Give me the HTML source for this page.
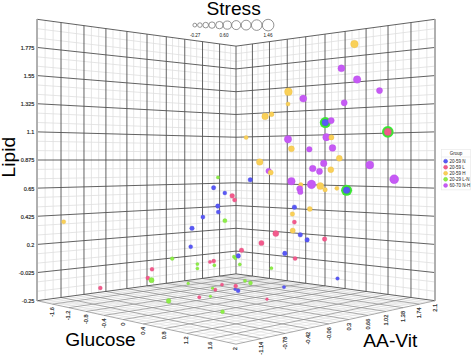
<!DOCTYPE html><html><head><meta charset="utf-8"><style>html,body{margin:0;padding:0;background:#fff;width:472px;height:355px;overflow:hidden}svg{display:block}text{font-family:"Liberation Sans",sans-serif}.t{stroke:#333;stroke-width:0.18}</style></head><body>
<svg width="472" height="355" viewBox="0 0 472 355">
<path d="M45.14 299.61L45.14 20.39M37.00 291.33L236.00 266.26M241.40 274.58L241.40 45.42M236.00 266.26L435.00 291.33M53.14 298.53L53.14 21.47M37.00 281.95L236.00 258.67M246.87 275.32L246.87 44.68M236.00 258.67L435.00 281.95M68.79 296.42L68.79 23.58M37.00 263.19L236.00 243.49M258.03 276.83L258.03 43.17M236.00 243.49L435.00 263.19M76.44 295.39L76.44 24.61M37.00 253.81L236.00 235.90M263.72 277.60L263.72 42.40M236.00 235.90L435.00 253.81M91.39 293.37L91.39 26.63M37.00 235.05L236.00 220.72M275.32 279.16L275.32 40.84M236.00 220.72L435.00 235.05M98.70 292.38L98.70 27.62M37.00 225.67L236.00 213.13M281.24 279.96L281.24 40.04M236.00 213.13L435.00 225.67M113.01 290.45L113.01 29.55M37.00 206.90L236.00 197.95M293.32 281.59L293.32 38.41M236.00 197.95L435.00 206.90M120.00 289.51L120.00 30.49M37.00 197.52L236.00 190.36M299.48 282.42L299.48 37.58M236.00 190.36L435.00 197.52M133.69 287.66L133.69 32.34M37.00 178.76L236.00 175.18M312.06 284.12L312.06 35.88M236.00 175.18L435.00 178.76M140.39 286.76L140.39 33.24M37.00 169.38L236.00 167.59M318.49 284.99L318.49 35.01M236.00 167.59L435.00 169.38M153.51 284.99L153.51 35.01M37.00 150.62L236.00 152.41M331.61 286.76L331.61 33.24M236.00 152.41L435.00 150.62M159.94 284.12L159.94 35.88M37.00 141.24L236.00 144.82M338.31 287.66L338.31 32.34M236.00 144.82L435.00 141.24M172.52 282.42L172.52 37.58M37.00 122.48L236.00 129.64M352.00 289.51L352.00 30.49M236.00 129.64L435.00 122.48M178.68 281.59L178.68 38.41M37.00 113.10L236.00 122.05M358.99 290.45L358.99 29.55M236.00 122.05L435.00 113.10M190.76 279.96L190.76 40.04M37.00 94.33L236.00 106.87M373.30 292.38L373.30 27.62M236.00 106.87L435.00 94.33M196.68 279.16L196.68 40.84M37.00 84.95L236.00 99.28M380.61 293.37L380.61 26.63M236.00 99.28L435.00 84.95M208.28 277.60L208.28 42.40M37.00 66.19L236.00 84.10M395.56 295.39L395.56 24.61M236.00 84.10L435.00 66.19M213.97 276.83L213.97 43.17M37.00 56.81L236.00 76.51M403.21 296.42L403.21 23.58M236.00 76.51L435.00 56.81M225.13 275.32L225.13 44.68M37.00 38.05L236.00 61.33M418.86 298.53L418.86 21.47M236.00 61.33L435.00 38.05M230.60 274.58L230.60 45.42M37.00 28.67L236.00 53.74M426.86 299.61L426.86 20.39M236.00 53.74L435.00 28.67" stroke="#dedede" stroke-width="0.8" fill="none"/>
<path d="M42.11 301.83L241.40 274.58M45.14 299.61L244.59 342.28M47.30 302.96L246.87 275.32M53.14 298.53L253.01 340.44M57.93 305.28L258.03 276.83M68.79 296.42L269.35 336.87M63.38 306.47L263.72 277.60M76.44 295.39L277.28 335.14M74.55 308.91L275.32 279.16M91.39 293.37L292.68 331.78M80.27 310.16L281.24 279.96M98.70 292.38L300.17 330.15M92.01 312.72L293.32 281.59M113.01 290.45L314.71 326.97M98.04 314.04L299.48 282.42M120.00 289.51L321.78 325.43M110.40 316.73L312.06 284.12M133.69 287.66L335.54 322.42M116.74 318.12L318.49 284.99M140.39 286.76L342.23 320.96M129.77 320.96L331.61 286.76M153.51 284.99L355.26 318.12M136.46 322.42L338.31 287.66M159.94 284.12L361.60 316.73M150.22 325.43L352.00 289.51M172.52 282.42L373.96 314.04M157.29 326.97L358.99 290.45M178.68 281.59L379.99 312.72M171.83 330.15L373.30 292.38M190.76 279.96L391.73 310.16M179.32 331.78L380.61 293.37M196.68 279.16L397.45 308.91M194.72 335.14L395.56 295.39M208.28 277.60L408.62 306.47M202.65 336.87L403.21 296.42M213.97 276.83L414.07 305.28M218.99 340.44L418.86 298.53M225.13 275.32L424.70 302.96M227.41 342.28L426.86 299.61M230.60 274.58L429.89 301.83" stroke="#dadada" stroke-width="0.6" fill="none"/>
<path d="M37.00 300.71L236.00 344.15M52.58 304.11L252.41 276.07M61.03 297.47L261.26 338.64M68.92 307.68L269.48 278.37M83.97 294.37L285.06 333.44M86.09 311.43L287.24 280.77M105.91 291.41L307.51 328.54M104.16 315.37L305.73 283.27M126.90 288.58L328.72 323.91M123.20 319.53L325.00 285.87M147.00 285.87L348.80 319.53M143.28 323.91L345.10 288.58M166.27 283.27L367.84 315.37M164.49 328.54L366.09 291.41M184.76 280.77L385.91 311.43M186.94 333.44L388.03 294.37M202.52 278.37L403.08 307.68M210.74 338.64L410.97 297.47M219.59 276.07L419.42 304.11M236.00 344.15L435.00 300.71" stroke="#858585" stroke-width="0.7" fill="none"/>
<path d="M37.00 300.71L37.00 19.29M37.00 300.71L236.00 273.86M236.00 273.86L435.00 300.71M61.03 297.47L61.03 22.53M37.00 272.57L236.00 251.08M252.41 276.07L252.41 43.93M236.00 251.08L435.00 272.57M83.97 294.37L83.97 25.63M37.00 244.43L236.00 228.31M269.48 278.37L269.48 41.63M236.00 228.31L435.00 244.43M105.91 291.41L105.91 28.59M37.00 216.28L236.00 205.54M287.24 280.77L287.24 39.23M236.00 205.54L435.00 216.28M126.90 288.58L126.90 31.42M37.00 188.14L236.00 182.77M305.73 283.27L305.73 36.73M236.00 182.77L435.00 188.14M147.00 285.87L147.00 34.13M37.00 160.00L236.00 160.00M325.00 285.87L325.00 34.13M236.00 160.00L435.00 160.00M166.27 283.27L166.27 36.73M37.00 131.86L236.00 137.23M345.10 288.58L345.10 31.42M236.00 137.23L435.00 131.86M184.76 280.77L184.76 39.23M37.00 103.72L236.00 114.46M366.09 291.41L366.09 28.59M236.00 114.46L435.00 103.72M202.52 278.37L202.52 41.63M37.00 75.57L236.00 91.69M388.03 294.37L388.03 25.63M236.00 91.69L435.00 75.57M219.59 276.07L219.59 43.93M37.00 47.43L236.00 68.92M410.97 297.47L410.97 22.53M236.00 68.92L435.00 47.43M236.00 273.86L236.00 46.14M37.00 19.29L236.00 46.14M435.00 300.71L435.00 19.29M236.00 46.14L435.00 19.29" stroke="#505050" stroke-width="0.9" fill="none"/>
<path d="M37.00 300.71L37.00 19.29M435.00 300.71L435.00 19.29" stroke="#b0b0b0" stroke-width="1.8" fill="none"/>
<circle cx="354.4" cy="44.1" r="3.80" fill="#f9d058" stroke="#e8b840" stroke-width="0.3"/>
<circle cx="341.4" cy="68.3" r="3.50" fill="#c65af5" stroke="#b048e0" stroke-width="0.3"/>
<circle cx="357.1" cy="79.5" r="3.80" fill="#c65af5" stroke="#b048e0" stroke-width="0.3"/>
<circle cx="379.5" cy="90.6" r="3.10" fill="#c65af5" stroke="#b048e0" stroke-width="0.3"/>
<circle cx="288.4" cy="91.7" r="3.90" fill="#f9d058" stroke="#e8b840" stroke-width="0.3"/>
<circle cx="303.2" cy="98.6" r="3.50" fill="#c65af5" stroke="#b048e0" stroke-width="0.3"/>
<circle cx="288.0" cy="104.0" r="2.10" fill="#f9d058" stroke="#e8b840" stroke-width="0.3"/>
<circle cx="265.1" cy="116.4" r="3.30" fill="#f9d058" stroke="#e8b840" stroke-width="0.3"/>
<circle cx="271.5" cy="114.2" r="2.50" fill="#f9d058" stroke="#e8b840" stroke-width="0.3"/>
<circle cx="246.1" cy="137.5" r="2.10" fill="#f9d058" stroke="#e8b840" stroke-width="0.3"/>
<circle cx="288.0" cy="139.2" r="3.70" fill="#c65af5" stroke="#b048e0" stroke-width="0.3"/>
<circle cx="344.2" cy="102.8" r="3.10" fill="#c65af5" stroke="#b048e0" stroke-width="0.3"/>
<circle cx="325.3" cy="122.6" r="5.50" fill="#3ce634"/>
<circle cx="325.3" cy="122.6" r="3.30" fill="#5858f6" stroke="#4848d0" stroke-width="0.3"/>
<circle cx="331.2" cy="120.6" r="3.10" fill="#c65af5" stroke="#b048e0" stroke-width="0.3"/>
<circle cx="326.4" cy="137.2" r="3.70" fill="#c65af5" stroke="#b048e0" stroke-width="0.3"/>
<circle cx="331.4" cy="137.4" r="2.60" fill="#f9d058" stroke="#e8b840" stroke-width="0.3"/>
<circle cx="387.8" cy="131.9" r="5.80" fill="#3ce634"/>
<circle cx="387.8" cy="131.9" r="3.60" fill="#f25a8c" stroke="#d84878" stroke-width="0.3"/>
<circle cx="291.4" cy="148.8" r="3.00" fill="#f9d058" stroke="#e8b840" stroke-width="0.3"/>
<circle cx="309.3" cy="149.3" r="2.80" fill="#c65af5" stroke="#b048e0" stroke-width="0.3"/>
<circle cx="332.5" cy="147.9" r="3.40" fill="#c65af5" stroke="#b048e0" stroke-width="0.3"/>
<circle cx="339.3" cy="158.3" r="3.00" fill="#f9d058" stroke="#e8b840" stroke-width="0.3"/>
<circle cx="323.7" cy="163.4" r="3.30" fill="#c65af5" stroke="#b048e0" stroke-width="0.3"/>
<circle cx="312.7" cy="168.5" r="3.30" fill="#c65af5" stroke="#b048e0" stroke-width="0.3"/>
<circle cx="319.5" cy="171.4" r="3.10" fill="#c65af5" stroke="#b048e0" stroke-width="0.3"/>
<circle cx="330.8" cy="169.7" r="3.00" fill="#f9d058" stroke="#e8b840" stroke-width="0.3"/>
<circle cx="369.8" cy="164.9" r="4.00" fill="#c65af5" stroke="#b048e0" stroke-width="0.3"/>
<circle cx="311.5" cy="184.4" r="4.30" fill="#c65af5" stroke="#b048e0" stroke-width="0.3"/>
<circle cx="320.3" cy="186.1" r="3.50" fill="#f9d058" stroke="#e8b840" stroke-width="0.3"/>
<circle cx="325.1" cy="189.7" r="2.30" fill="#f9d058" stroke="#e8b840" stroke-width="0.3"/>
<circle cx="336.9" cy="188.3" r="2.10" fill="#f9d058" stroke="#e8b840" stroke-width="0.3"/>
<circle cx="346.6" cy="190.3" r="5.50" fill="#3ce634"/>
<circle cx="346.6" cy="190.3" r="3.30" fill="#5858f6" stroke="#4848d0" stroke-width="0.3"/>
<circle cx="259.7" cy="162.0" r="3.30" fill="#f9d058" stroke="#e8b840" stroke-width="0.3"/>
<circle cx="268.6" cy="171.0" r="2.80" fill="#c65af5" stroke="#b048e0" stroke-width="0.3"/>
<circle cx="270.7" cy="172.5" r="2.60" fill="#f9d058" stroke="#e8b840" stroke-width="0.3"/>
<circle cx="250.3" cy="179.8" r="2.30" fill="#5858f6" stroke="#4848d0" stroke-width="0.3"/>
<circle cx="291.4" cy="181.2" r="3.80" fill="#c65af5" stroke="#b048e0" stroke-width="0.3"/>
<circle cx="300.8" cy="184.9" r="2.30" fill="#f9d058" stroke="#e8b840" stroke-width="0.3"/>
<circle cx="299.7" cy="188.8" r="3.10" fill="#c65af5" stroke="#b048e0" stroke-width="0.3"/>
<circle cx="300.3" cy="191.9" r="2.70" fill="#c65af5" stroke="#b048e0" stroke-width="0.3"/>
<circle cx="394.2" cy="179.2" r="4.50" fill="#c65af5" stroke="#b048e0" stroke-width="0.3"/>
<circle cx="232.2" cy="195.8" r="2.40" fill="#f25a8c" stroke="#d84878" stroke-width="0.3"/>
<circle cx="234.6" cy="200.0" r="2.10" fill="#f25a8c" stroke="#d84878" stroke-width="0.3"/>
<circle cx="294.4" cy="207.2" r="2.30" fill="#5858f6" stroke="#4848d0" stroke-width="0.3"/>
<circle cx="309.8" cy="208.9" r="2.50" fill="#f9d058" stroke="#e8b840" stroke-width="0.3"/>
<circle cx="292.4" cy="214.0" r="2.30" fill="#f9d058" stroke="#e8b840" stroke-width="0.3"/>
<circle cx="294.4" cy="222.1" r="2.10" fill="#f25a8c" stroke="#d84878" stroke-width="0.3"/>
<circle cx="292.7" cy="230.6" r="2.60" fill="#f9d058" stroke="#e8b840" stroke-width="0.3"/>
<circle cx="300.3" cy="234.8" r="2.30" fill="#5858f6" stroke="#4848d0" stroke-width="0.3"/>
<circle cx="307.1" cy="239.9" r="2.30" fill="#5858f6" stroke="#4848d0" stroke-width="0.3"/>
<circle cx="275.8" cy="233.6" r="3.00" fill="#f25a8c" stroke="#d84878" stroke-width="0.3"/>
<circle cx="261.4" cy="243.0" r="2.60" fill="#f25a8c" stroke="#d84878" stroke-width="0.3"/>
<circle cx="241.5" cy="250.3" r="2.30" fill="#f25a8c" stroke="#d84878" stroke-width="0.3"/>
<circle cx="284.8" cy="253.4" r="2.30" fill="#5858f6" stroke="#4848d0" stroke-width="0.3"/>
<circle cx="233.9" cy="256.7" r="1.60" fill="#8eee48" stroke="#70d030" stroke-width="0.3"/>
<circle cx="235.4" cy="258.2" r="1.60" fill="#8eee48" stroke="#70d030" stroke-width="0.3"/>
<circle cx="238.3" cy="255.9" r="2.30" fill="#5858f6" stroke="#4848d0" stroke-width="0.3"/>
<circle cx="324.6" cy="239.1" r="2.30" fill="#f25a8c" stroke="#d84878" stroke-width="0.3"/>
<circle cx="295.1" cy="258.5" r="2.10" fill="#f25a8c" stroke="#d84878" stroke-width="0.3"/>
<circle cx="337.5" cy="278.5" r="1.80" fill="#5858f6" stroke="#4848d0" stroke-width="0.3"/>
<circle cx="239.8" cy="264.4" r="1.60" fill="#8eee48" stroke="#70d030" stroke-width="0.3"/>
<circle cx="271.4" cy="268.2" r="1.60" fill="#8eee48" stroke="#70d030" stroke-width="0.3"/>
<circle cx="245.0" cy="280.8" r="1.60" fill="#8eee48" stroke="#70d030" stroke-width="0.3"/>
<circle cx="250.5" cy="282.9" r="2.00" fill="#8eee48" stroke="#70d030" stroke-width="0.3"/>
<circle cx="235.1" cy="289.3" r="1.40" fill="#5858f6" stroke="#4848d0" stroke-width="0.3"/>
<circle cx="235.7" cy="286.1" r="2.00" fill="#f25a8c" stroke="#d84878" stroke-width="0.3"/>
<circle cx="238.1" cy="290.8" r="2.00" fill="#5858f6" stroke="#4848d0" stroke-width="0.3"/>
<circle cx="284.0" cy="287.1" r="1.70" fill="#5858f6" stroke="#4848d0" stroke-width="0.3"/>
<circle cx="267.0" cy="299.2" r="1.40" fill="#f25a8c" stroke="#d84878" stroke-width="0.3"/>
<circle cx="172.2" cy="258.6" r="1.90" fill="#8eee48" stroke="#70d030" stroke-width="0.3"/>
<circle cx="197.4" cy="264.1" r="1.60" fill="#8eee48" stroke="#70d030" stroke-width="0.3"/>
<circle cx="197.4" cy="268.5" r="1.60" fill="#8eee48" stroke="#70d030" stroke-width="0.3"/>
<circle cx="210.0" cy="261.9" r="1.70" fill="#f25a8c" stroke="#d84878" stroke-width="0.3"/>
<circle cx="213.7" cy="261.1" r="2.00" fill="#f25a8c" stroke="#d84878" stroke-width="0.3"/>
<circle cx="214.4" cy="265.3" r="1.60" fill="#8eee48" stroke="#70d030" stroke-width="0.3"/>
<circle cx="188.2" cy="283.4" r="1.40" fill="#8eee48" stroke="#70d030" stroke-width="0.3"/>
<circle cx="222.0" cy="284.6" r="1.60" fill="#f25a8c" stroke="#d84878" stroke-width="0.3"/>
<circle cx="212.6" cy="288.3" r="1.40" fill="#8eee48" stroke="#70d030" stroke-width="0.3"/>
<circle cx="215.3" cy="289.7" r="1.70" fill="#f25a8c" stroke="#d84878" stroke-width="0.3"/>
<circle cx="199.3" cy="297.2" r="1.70" fill="#f25a8c" stroke="#d84878" stroke-width="0.3"/>
<circle cx="210.4" cy="296.3" r="1.40" fill="#8eee48" stroke="#70d030" stroke-width="0.3"/>
<circle cx="168.6" cy="301.0" r="2.40" fill="#8eee48" stroke="#70d030" stroke-width="0.3"/>
<circle cx="222.5" cy="311.8" r="2.00" fill="#8eee48" stroke="#70d030" stroke-width="0.3"/>
<circle cx="100.3" cy="288.0" r="2.00" fill="#f25a8c" stroke="#d84878" stroke-width="0.3"/>
<circle cx="152.0" cy="269.3" r="2.00" fill="#f25a8c" stroke="#d84878" stroke-width="0.3"/>
<circle cx="147.8" cy="278.1" r="2.00" fill="#f25a8c" stroke="#d84878" stroke-width="0.3"/>
<circle cx="151.5" cy="280.2" r="2.60" fill="#8eee48" stroke="#70d030" stroke-width="0.3"/>
<circle cx="218.0" cy="177.4" r="1.70" fill="#8eee48" stroke="#70d030" stroke-width="0.3"/>
<circle cx="213.6" cy="187.7" r="2.20" fill="#5858f6" stroke="#4848d0" stroke-width="0.3"/>
<circle cx="224.8" cy="193.0" r="2.00" fill="#5858f6" stroke="#4848d0" stroke-width="0.3"/>
<circle cx="217.8" cy="206.1" r="2.30" fill="#5858f6" stroke="#4848d0" stroke-width="0.3"/>
<circle cx="218.3" cy="212.0" r="2.10" fill="#5858f6" stroke="#4848d0" stroke-width="0.3"/>
<circle cx="202.9" cy="217.1" r="2.10" fill="#5858f6" stroke="#4848d0" stroke-width="0.3"/>
<circle cx="224.9" cy="220.7" r="2.10" fill="#8eee48" stroke="#70d030" stroke-width="0.3"/>
<circle cx="192.0" cy="228.3" r="2.30" fill="#5858f6" stroke="#4848d0" stroke-width="0.3"/>
<circle cx="190.7" cy="246.7" r="2.00" fill="#5858f6" stroke="#4848d0" stroke-width="0.3"/>
<circle cx="63.7" cy="221.8" r="2.10" fill="#f9d058" stroke="#e8b840" stroke-width="0.3"/>
<text x="34.4" y="301.1" class="t" font-size="5.5" fill="#222" text-anchor="end" dominant-baseline="central">-0.25</text>
<text x="34.4" y="273.0" class="t" font-size="5.5" fill="#222" text-anchor="end" dominant-baseline="central">-0.025</text>
<text x="34.4" y="244.8" class="t" font-size="5.5" fill="#222" text-anchor="end" dominant-baseline="central">0.2</text>
<text x="34.4" y="216.7" class="t" font-size="5.5" fill="#222" text-anchor="end" dominant-baseline="central">0.425</text>
<text x="34.4" y="188.5" class="t" font-size="5.5" fill="#222" text-anchor="end" dominant-baseline="central">0.65</text>
<text x="34.4" y="160.4" class="t" font-size="5.5" fill="#222" text-anchor="end" dominant-baseline="central">0.875</text>
<text x="34.4" y="132.3" class="t" font-size="5.5" fill="#222" text-anchor="end" dominant-baseline="central">1.1</text>
<text x="34.4" y="104.1" class="t" font-size="5.5" fill="#222" text-anchor="end" dominant-baseline="central">1.325</text>
<text x="34.4" y="76.0" class="t" font-size="5.5" fill="#222" text-anchor="end" dominant-baseline="central">1.55</text>
<text x="34.4" y="47.8" class="t" font-size="5.5" fill="#222" text-anchor="end" dominant-baseline="central">1.775</text>
<text transform="translate(52.0 307.1) rotate(-90)" class="t" font-size="5.6" fill="#222" text-anchor="end" dominant-baseline="central">-1.6</text>
<text transform="translate(68.3 310.7) rotate(-90)" class="t" font-size="5.6" fill="#222" text-anchor="end" dominant-baseline="central">-1.2</text>
<text transform="translate(85.5 314.4) rotate(-90)" class="t" font-size="5.6" fill="#222" text-anchor="end" dominant-baseline="central">-0.8</text>
<text transform="translate(103.6 318.4) rotate(-90)" class="t" font-size="5.6" fill="#222" text-anchor="end" dominant-baseline="central">-0.4</text>
<text transform="translate(122.6 322.5) rotate(-90)" class="t" font-size="5.6" fill="#222" text-anchor="end" dominant-baseline="central">0</text>
<text transform="translate(142.7 326.9) rotate(-90)" class="t" font-size="5.6" fill="#222" text-anchor="end" dominant-baseline="central">0.4</text>
<text transform="translate(163.9 331.5) rotate(-90)" class="t" font-size="5.6" fill="#222" text-anchor="end" dominant-baseline="central">0.8</text>
<text transform="translate(186.3 336.4) rotate(-90)" class="t" font-size="5.6" fill="#222" text-anchor="end" dominant-baseline="central">1.2</text>
<text transform="translate(210.1 341.6) rotate(-90)" class="t" font-size="5.6" fill="#222" text-anchor="end" dominant-baseline="central">1.6</text>
<text transform="translate(235.4 347.2) rotate(-90)" class="t" font-size="5.6" fill="#222" text-anchor="end" dominant-baseline="central">2</text>
<text transform="translate(261.3 341.9) rotate(-90)" class="t" font-size="5.6" fill="#222" text-anchor="end" dominant-baseline="central">-1.14</text>
<text transform="translate(285.1 336.7) rotate(-90)" class="t" font-size="5.6" fill="#222" text-anchor="end" dominant-baseline="central">-0.78</text>
<text transform="translate(307.5 331.8) rotate(-90)" class="t" font-size="5.6" fill="#222" text-anchor="end" dominant-baseline="central">-0.42</text>
<text transform="translate(328.7 327.2) rotate(-90)" class="t" font-size="5.6" fill="#222" text-anchor="end" dominant-baseline="central">-0.06</text>
<text transform="translate(348.8 322.8) rotate(-90)" class="t" font-size="5.6" fill="#222" text-anchor="end" dominant-baseline="central">0.3</text>
<text transform="translate(367.8 318.7) rotate(-90)" class="t" font-size="5.6" fill="#222" text-anchor="end" dominant-baseline="central">0.66</text>
<text transform="translate(385.9 314.7) rotate(-90)" class="t" font-size="5.6" fill="#222" text-anchor="end" dominant-baseline="central">1.02</text>
<text transform="translate(403.1 311.0) rotate(-90)" class="t" font-size="5.6" fill="#222" text-anchor="end" dominant-baseline="central">1.38</text>
<text transform="translate(419.4 307.4) rotate(-90)" class="t" font-size="5.6" fill="#222" text-anchor="end" dominant-baseline="central">1.74</text>
<text transform="translate(435.0 304.0) rotate(-90)" class="t" font-size="5.6" fill="#222" text-anchor="end" dominant-baseline="central">2.1</text>
<text x="233.6" y="15.3" font-size="19.2" text-anchor="middle" fill="#000">Stress</text>
<text transform="translate(14.5 157.2) rotate(-90)" font-size="19.2" text-anchor="middle" fill="#000">Lipid</text>
<text x="65.3" y="346.3" font-size="19.2" fill="#000">Glucose</text>
<text x="363.3" y="346.7" font-size="19.2" fill="#000">AA-Vit</text>
<circle cx="194.8" cy="25.1" r="1.9" fill="none" stroke="#777" stroke-width="0.8"/>
<circle cx="199.9" cy="25.1" r="2.3" fill="none" stroke="#777" stroke-width="0.8"/>
<circle cx="205.7" cy="25.1" r="2.8" fill="none" stroke="#777" stroke-width="0.8"/>
<circle cx="212.0" cy="25.1" r="3.2" fill="none" stroke="#777" stroke-width="0.8"/>
<circle cx="219.4" cy="25.1" r="3.7" fill="none" stroke="#777" stroke-width="0.8"/>
<circle cx="227.3" cy="25.1" r="4.1" fill="none" stroke="#777" stroke-width="0.8"/>
<circle cx="236.2" cy="25.1" r="4.5" fill="none" stroke="#777" stroke-width="0.8"/>
<circle cx="246.1" cy="25.1" r="4.9" fill="none" stroke="#777" stroke-width="0.8"/>
<circle cx="256.7" cy="25.1" r="5.3" fill="none" stroke="#777" stroke-width="0.8"/>
<circle cx="268.1" cy="25.1" r="5.8" fill="none" stroke="#777" stroke-width="0.8"/>
<text x="195.2" y="35.9" font-size="4.6" text-anchor="middle" dominant-baseline="central" fill="#111">-0.27</text>
<text x="224.0" y="35.9" font-size="4.6" text-anchor="middle" dominant-baseline="central" fill="#111">0.60</text>
<text x="268.0" y="35.9" font-size="4.6" text-anchor="middle" dominant-baseline="central" fill="#111">1.46</text>
<rect x="441.6" y="149.3" width="28.8" height="40.6" fill="#fff" stroke="#e6e6e6" stroke-width="0.6"/>
<line x1="441.6" y1="157" x2="470.4" y2="157" stroke="#e6e6e6" stroke-width="0.6"/>
<text x="456" y="153.6" font-size="4.5" text-anchor="middle" dominant-baseline="central" fill="#222">Group</text>
<circle cx="445.6" cy="161.2" r="2.0" fill="#5858f6" stroke="#4848d0" stroke-width="0.4"/>
<text x="449.5" y="161.3" font-size="4.5" dominant-baseline="central" fill="#222">20-59 N</text>
<circle cx="445.6" cy="167.2" r="2.0" fill="#f25a8c" stroke="#d84878" stroke-width="0.4"/>
<text x="449.5" y="167.3" font-size="4.5" dominant-baseline="central" fill="#222">20-59 L</text>
<circle cx="445.6" cy="173.3" r="2.0" fill="#f9d058" stroke="#e8b840" stroke-width="0.4"/>
<text x="449.5" y="173.4" font-size="4.5" dominant-baseline="central" fill="#222">20-59 H</text>
<circle cx="445.6" cy="179.3" r="2.0" fill="#8eee48" stroke="#70d030" stroke-width="0.4"/>
<text x="449.5" y="179.4" font-size="4.5" dominant-baseline="central" fill="#222">20-29 L-N</text>
<circle cx="445.6" cy="185.4" r="2.0" fill="#c65af5" stroke="#b048e0" stroke-width="0.4"/>
<text x="449.5" y="185.5" font-size="4.5" dominant-baseline="central" fill="#222">60-70 N-H</text>
</svg></body></html>
